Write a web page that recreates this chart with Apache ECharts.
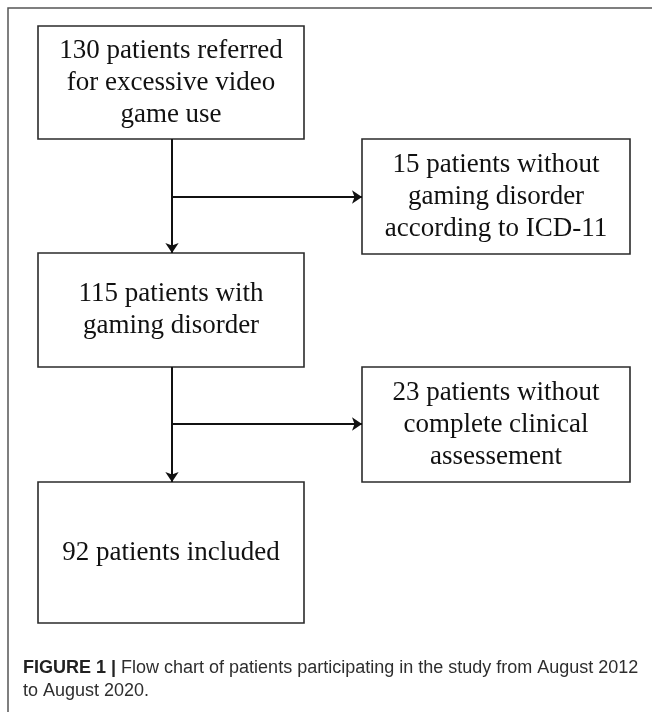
<!DOCTYPE html>
<html lang="en">
<head>
    <meta charset="UTF-8">
    <title>Flow chart</title>
    <style>
        html, body { margin: 0; padding: 0; background: #fff; }
    </style>
</head>
<body>
    <div id="myChart" style="width: 652px;height:712px;"></div>
</body>
<script src="https://cdn.jsdelivr.net/npm/echarts@6/dist/echarts.min.js"></script>
<script>
    // flow steps and their texts
    let boxLabels = [
      '130 patients referred\nfor excessive video\ngame use',
      '15 patients without\ngaming disorder\naccording to ICD-11',
      '115 patients with\ngaming disorder',
      '23 patients without\ncomplete clinical\nassessement',
      '92 patients included'
    ];
    let patientCounts = [130, 15, 115, 23, 92];

    // layout of the boxes (page units): [x0, y0, x1, y1]
    let boxRects = [
      [38, 26, 304, 139],
      [362, 139, 630, 254],
      [38, 253, 304, 367],
      [362, 367, 630, 482],
      [38, 482, 304, 623]
    ];

    // connectors: [from, to]
    let arrows = [
      [[172, 139], [172, 253]],
      [[172, 197], [362, 197]],
      [[172, 367], [172, 482]],
      [[172, 424], [362, 424]]
    ];

    let frameLine = [[8, 712], [8, 8], [652, 8]];

    let captionBold = 'FIGURE 1 |';
    let captionLines = [
      ' Flow chart of patients participating in the study from August 2012',
      'to August 2020.'
    ];

    let chart = echarts.init(document.getElementById('myChart'));

    let boxData = boxRects.map(function (r, i) {
      return { value: r.concat([patientCounts[i]]) };
    });

    let option = {
      animation: false,
      backgroundColor: '#fff',
      title: {
        left: 18,
        top: 652,
        text: '{b|' + captionBold + '}{n|' + captionLines[0] + '}\n{n|' + captionLines[1] + '}',
        textStyle: {
          lineHeight: 23,
          fontWeight: 'normal',
          rich: {
            b: { fontFamily: 'Liberation Sans', fontWeight: 'bold', fontSize: 18, color: '#222', lineHeight: 23 },
            n: { fontFamily: 'Liberation Sans', fontWeight: 'normal', fontSize: 18, color: '#2e2e2e', lineHeight: 23 }
          }
        }
      },
      grid: { left: 0, right: 0, top: 0, bottom: 0 },
      xAxis: { type: 'value', min: 0, max: 652, show: false },
      yAxis: { type: 'value', min: 0, max: 712, inverse: true, show: false },
      series: [
        {
          type: 'custom',
          data: boxData,
          renderItem: function (params, api) {
            let p0 = api.coord([api.value(0), api.value(1)]);
            let p1 = api.coord([api.value(2), api.value(3)]);
            let lbl = boxLabels[params.dataIndex];
            return {
              type: 'group',
              children: [
                {
                  type: 'rect',
                  shape: { x: p0[0], y: p0[1], width: p1[0] - p0[0], height: p1[1] - p0[1] },
                  style: { fill: '#fff', stroke: '#2b2b2b', lineWidth: 1.6 }
                },
                {
                  type: 'text',
                  x: (p0[0] + p1[0]) / 2,
                  y: (p0[1] + p1[1]) / 2,
                  style: {
                    text: lbl,
                    fontFamily: 'Liberation Serif',
                    fontSize: 27,
                    lineHeight: 32,
                    fill: '#111',
                    align: 'center',
                    verticalAlign: 'middle'
                  }
                }
              ]
            };
          }
        },
        {
          type: 'lines',
          coordinateSystem: 'cartesian2d',
          symbol: ['none', 'arrow'],
          symbolSize: [9, 10],
          lineStyle: { color: '#111', width: 2, opacity: 1 },
          data: arrows.map(function (a) { return { coords: a }; })
        },
        {
          type: 'lines',
          coordinateSystem: 'cartesian2d',
          polyline: true,
          symbol: 'none',
          lineStyle: { color: '#555', width: 1.5, opacity: 1 },
          data: [{ coords: frameLine }]
        }
      ]
    };

    chart.setOption(option);
</script>
</html>
